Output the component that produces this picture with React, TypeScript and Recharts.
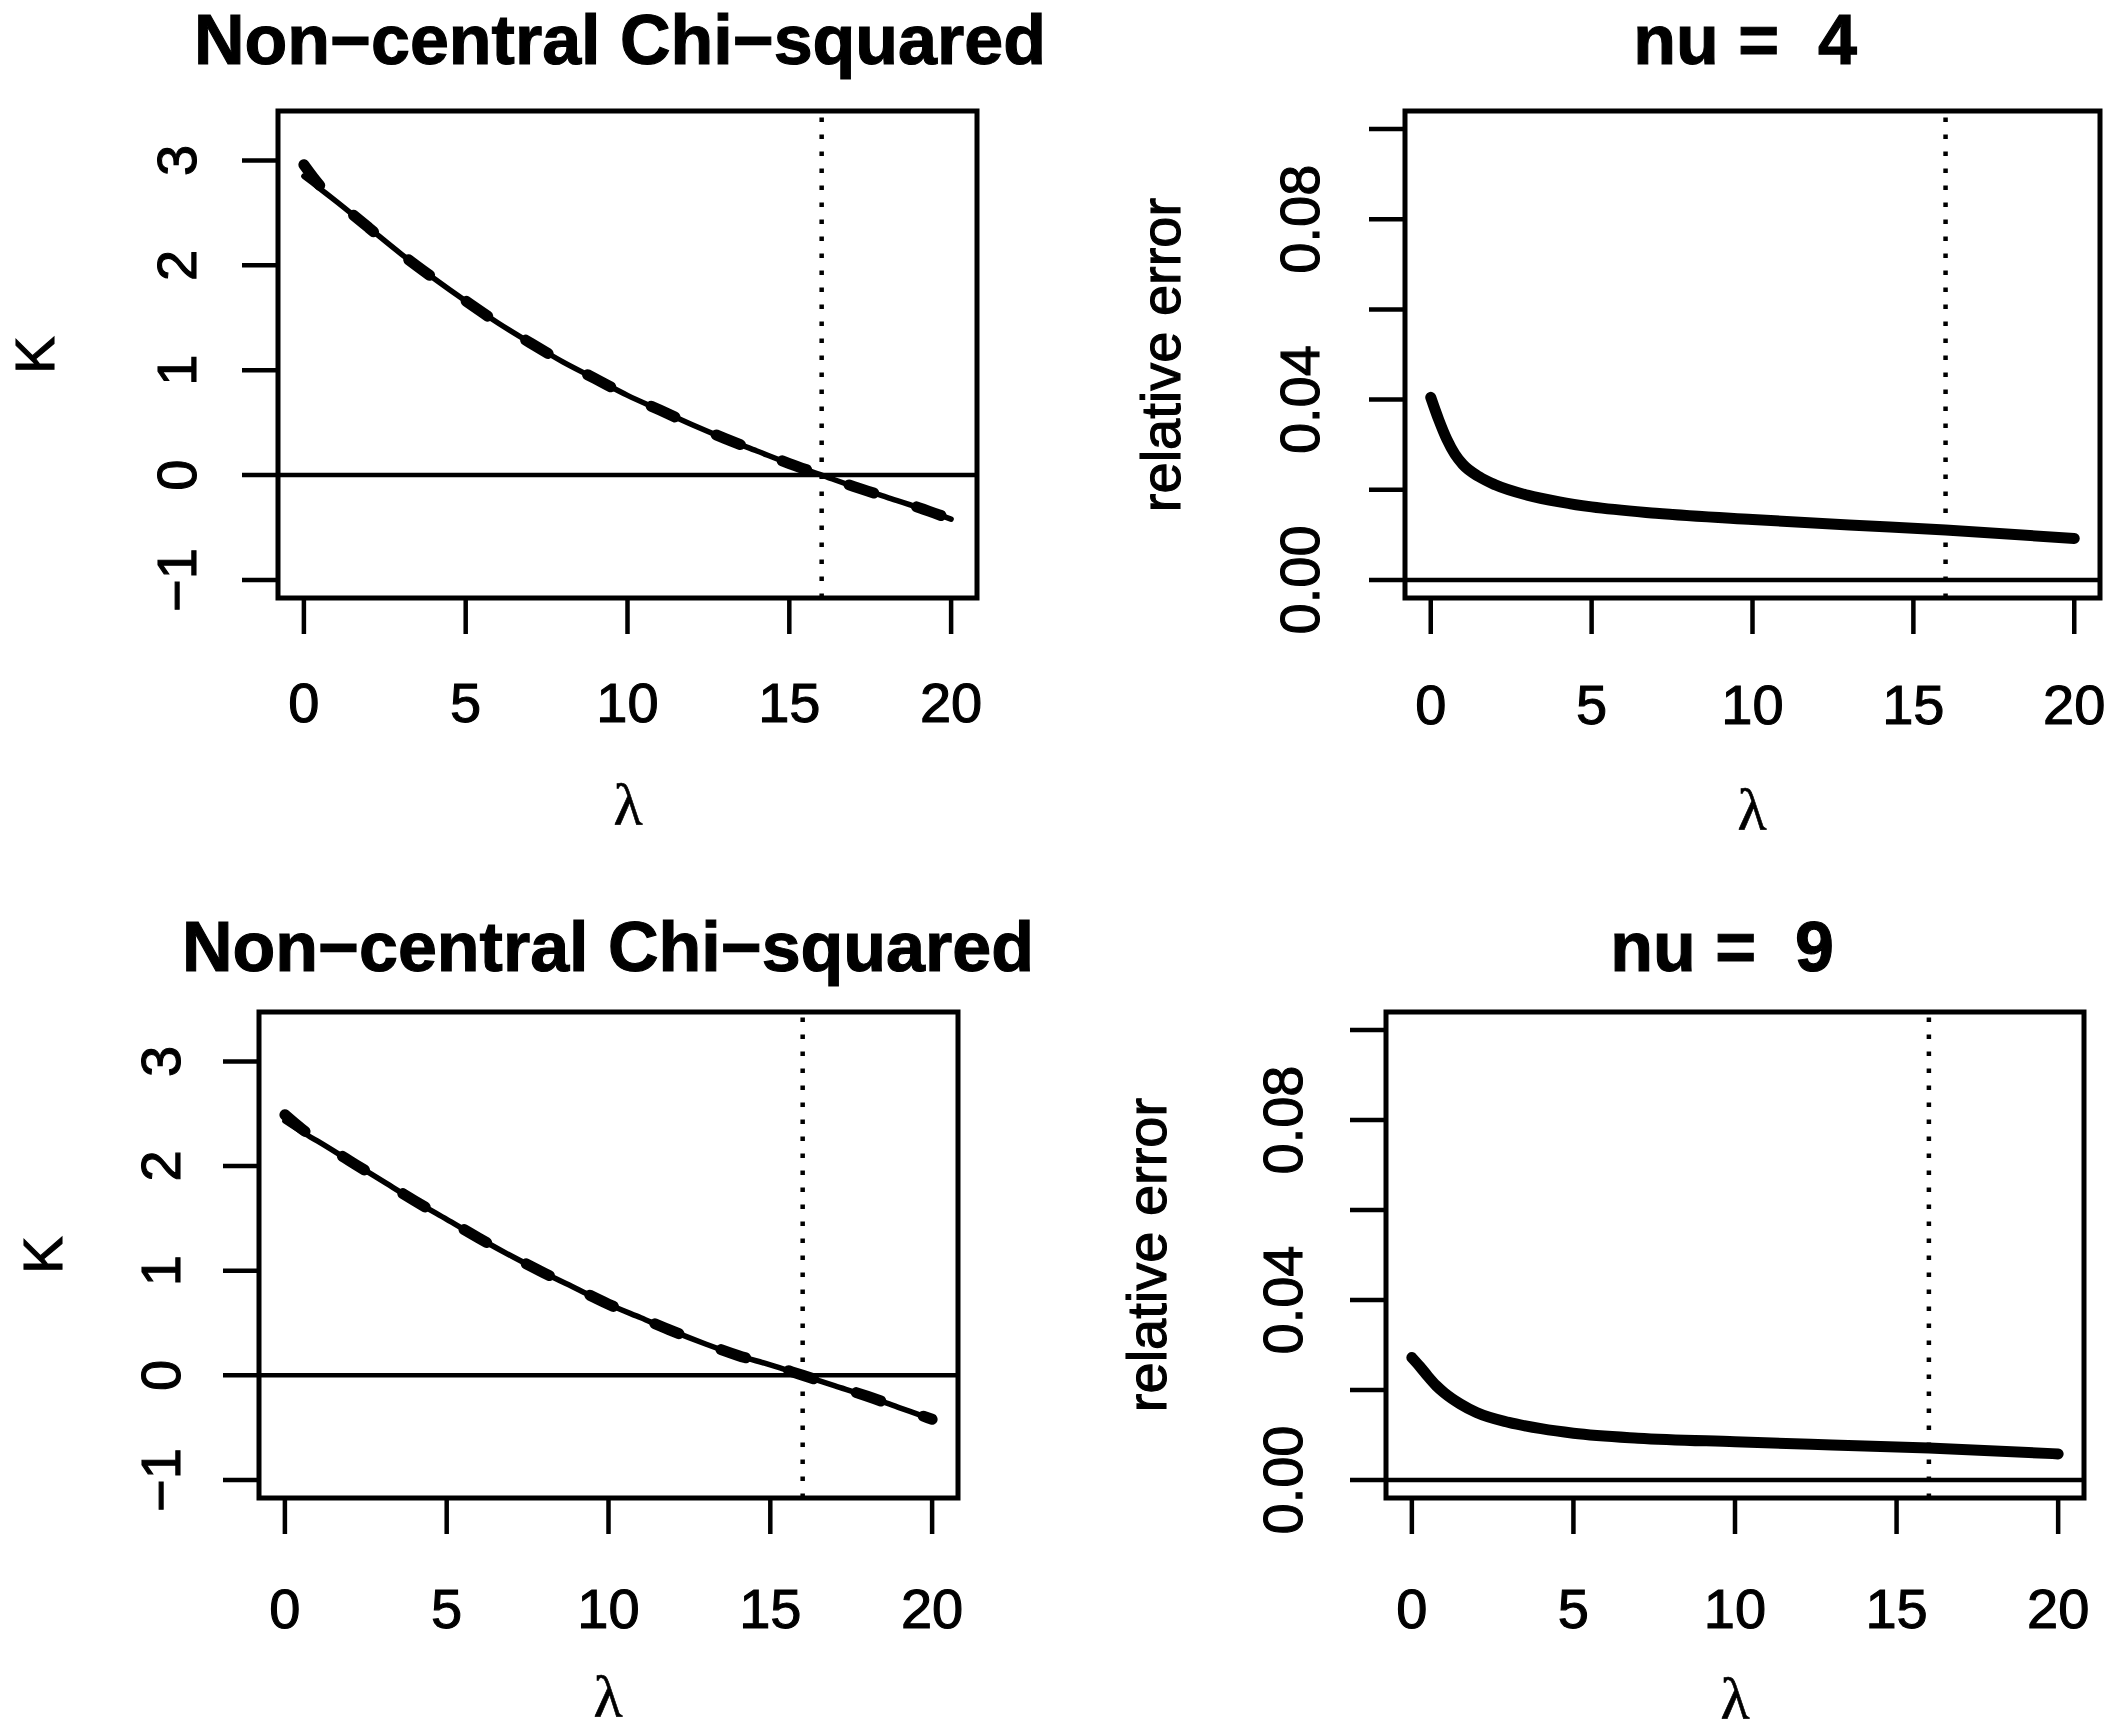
import React from "react";
import {
  Line,
  LineChart,
  ReferenceArea,
  ReferenceLine,
  XAxis,
  YAxis,
} from "recharts";

const W = 2117;
const H = 1732;
const SANS = "'Liberation Sans', Arial, Helvetica, sans-serif";
const SERIF = "'Liberation Serif', 'Times New Roman', serif";

// lambda grid for the K curves
const LAMBDA_K = [0, 0.5, 1, 2, 3, 4, 5, 6, 7, 8, 9, 10, 11, 12, 13, 14, 15, 16, 17, 18, 19, 20];
const K_EXACT_NU4 = [2.85, 2.73, 2.61, 2.36, 2.11, 1.88, 1.66, 1.45, 1.26, 1.08, 0.92, 0.76, 0.62, 0.48, 0.35, 0.23, 0.11, 0.0, -0.11, -0.21, -0.31, -0.42];
const K_APPROX_NU4 = [2.96, 2.76, 2.62, 2.36, 2.11, 1.88, 1.66, 1.45, 1.26, 1.08, 0.92, 0.76, 0.62, 0.48, 0.35, 0.23, 0.11, 0.0, -0.11, -0.21, -0.31, -0.42];
const K_EXACT_NU9 = [2.43, 2.33, 2.24, 2.05, 1.86, 1.67, 1.49, 1.31, 1.14, 0.98, 0.83, 0.68, 0.55, 0.42, 0.3, 0.19, 0.1, 0.0, -0.1, -0.2, -0.31, -0.42];
const K_APPROX_NU9 = [2.49, 2.36, 2.25, 2.05, 1.86, 1.67, 1.49, 1.31, 1.14, 0.98, 0.83, 0.68, 0.55, 0.42, 0.3, 0.19, 0.1, 0.0, -0.1, -0.2, -0.31, -0.42];

// lambda grid for the relative error curves
const LAMBDA_R = [0, 0.25, 0.5, 0.75, 1, 1.5, 2, 3, 4, 5, 7, 10, 13, 16, 20];
const REL_NU4 = [0.0405, 0.0355, 0.0312, 0.0279, 0.0256, 0.0229, 0.0211, 0.0188, 0.0173, 0.0162, 0.0148, 0.0134, 0.0122, 0.0111, 0.0092];
const REL_NU9 = [0.0272, 0.0252, 0.0230, 0.0210, 0.0194, 0.0169, 0.0150, 0.0128, 0.0114, 0.0104, 0.0093, 0.0085, 0.0078, 0.0071, 0.0058];

const X_TICKS = [0, 5, 10, 15, 20];
const X_DOMAIN = [-0.8, 20.8];
const K_TICKS = [-1, 0, 1, 2, 3];
const K_DOMAIN = [-1.172, 3.472];
const REL_TICKS = [0, 0.02, 0.04, 0.06, 0.08, 0.1];
const REL_TICK_LABELS = ["0.00", "", "0.04", "", "0.08", ""];
const REL_DOMAIN = [-0.004, 0.104];
const V_LINE = 16;

const kData = (exact: number[], approx: number[]) =>
  LAMBDA_K.map((l, i) => ({ l, exact: exact[i], approx: approx[i] }));
const relData = (vals: number[]) => LAMBDA_R.map((l, i) => ({ l, rel: vals[i] }));

type Box = { left: number; top: number; right: number; bottom: number };

// thin outline so the text looks as heavy as the R png
const textInk = { fill: "#000", stroke: "#000", strokeWidth: 1.1 };

function Panel({
  box,
  data,
  yDomain,
  yTicks,
  yLabel,
  yLabelX,
  xLabelY,
  kind,
}: {
  box: Box;
  data: object[];
  yDomain: number[];
  yTicks: number[];
  yLabel: (v: number, i: number) => string;
  yLabelX: number;
  xLabelY: number;
  kind: "k" | "rel";
}) {
  const axisW = 100;
  return (
    <div style={{ position: "absolute", left: 0, top: 0 }}>
      <LineChart
        width={W}
        height={H}
        data={data}
        margin={{
          top: box.top,
          left: box.left - axisW,
          right: W - box.right,
          bottom: H - box.bottom - axisW,
        }}
      >
        <XAxis
          type="number"
          dataKey="l"
          domain={X_DOMAIN}
          allowDataOverflow
          ticks={X_TICKS}
          interval={0}
          height={axisW}
          axisLine={false}
          tickSize={36}
          tickLine={{ stroke: "#000", strokeWidth: 4.5 }}
          tick={(p: any) => (
            <text
              x={p.x}
              y={xLabelY}
              textAnchor="middle"
              dominantBaseline="central"
              fontFamily={SANS}
              fontSize={56}
              {...textInk}
            >
              {p.payload.value}
            </text>
          )}
        />
        <YAxis
          type="number"
          domain={yDomain}
          allowDataOverflow
          ticks={yTicks}
          interval={0}
          width={axisW}
          axisLine={false}
          tickSize={36}
          tickLine={{ stroke: "#000", strokeWidth: 4.5 }}
          tick={(p: any) => (
            <text
              transform={`translate(${yLabelX},${p.y}) rotate(-90)`}
              textAnchor="middle"
              dominantBaseline="central"
              fontFamily={SANS}
              fontSize={56}
              {...textInk}
            >
              {yLabel(p.payload.value, p.index)}
            </text>
          )}
        />
        <ReferenceLine y={0} stroke="#000" strokeWidth={4.5} ifOverflow="visible" />
        <ReferenceLine
          x={V_LINE}
          stroke="#000"
          strokeWidth={4.5}
          strokeDasharray="4.5 12.5"
          ifOverflow="visible"
        />
        {kind === "k" ? (
          <Line
            type="monotone"
            dataKey="exact"
            stroke="#000"
            strokeWidth={5.5}
            dot={false}
            isAnimationActive={false}
            strokeLinecap="round"
          />
        ) : null}
        {kind === "k" ? (
          <Line
            type="monotone"
            dataKey="approx"
            stroke="#000"
            strokeWidth={11}
            strokeDasharray="26 45"
            dot={false}
            isAnimationActive={false}
            strokeLinecap="round"
          />
        ) : null}
        {kind === "rel" ? (
          <Line
            type="monotone"
            dataKey="rel"
            stroke="#000"
            strokeWidth={11}
            dot={false}
            isAnimationActive={false}
            strokeLinecap="round"
          />
        ) : null}
        <ReferenceArea
          x1={X_DOMAIN[0]}
          x2={X_DOMAIN[1]}
          y1={yDomain[0]}
          y2={yDomain[1]}
          fill="none"
          stroke="#000"
          strokeWidth={5}
          ifOverflow="visible"
        />
      </LineChart>
    </div>
  );
}

const kTickLabel = (v: number) => String(v).replace("-", "\u2212");
const relTickLabel = (_v: number, i: number) => REL_TICK_LABELS[i] ?? "";

function Label({
  x,
  y,
  text,
  size = 56,
  bold = false,
  rotate = false,
  serif = false,
}: {
  x: number;
  y: number;
  text: string;
  size?: number;
  bold?: boolean;
  rotate?: boolean;
  serif?: boolean;
}) {
  return (
    <text
      transform={`translate(${x},${y})${rotate ? " rotate(-90)" : ""}`}
      textAnchor="middle"
      dominantBaseline="central"
      fontFamily={serif ? SERIF : SANS}
      fontWeight={bold ? "bold" : "normal"}
      fontSize={size}
      {...textInk}
      strokeWidth={serif ? 0.6 : 1.1}
      style={{ whiteSpace: "pre" }}
    >
      {text}
    </text>
  );
}

export default function App() {
  return (
    <div style={{ position: "relative", width: W, height: H, background: "#fff" }}>
      <style>{`body{margin:0;background:#fff}`}</style>
      <Panel
        box={{ left: 278, top: 111, right: 977, bottom: 598 }}
        data={kData(K_EXACT_NU4, K_APPROX_NU4)}
        yDomain={K_DOMAIN}
        yTicks={K_TICKS}
        yLabel={kTickLabel}
        yLabelX={176}
        xLabelY={702}
        kind="k"
      />
      <Panel
        box={{ left: 1405, top: 111, right: 2100, bottom: 598 }}
        data={relData(REL_NU4)}
        yDomain={REL_DOMAIN}
        yTicks={REL_TICKS}
        yLabel={relTickLabel}
        yLabelX={1299}
        xLabelY={704}
        kind="rel"
      />
      <Panel
        box={{ left: 259, top: 1012, right: 958, bottom: 1498 }}
        data={kData(K_EXACT_NU9, K_APPROX_NU9)}
        yDomain={K_DOMAIN}
        yTicks={K_TICKS}
        yLabel={kTickLabel}
        yLabelX={160}
        xLabelY={1608}
        kind="k"
      />
      <Panel
        box={{ left: 1386, top: 1012, right: 2084, bottom: 1498 }}
        data={relData(REL_NU9)}
        yDomain={REL_DOMAIN}
        yTicks={REL_TICKS}
        yLabel={relTickLabel}
        yLabelX={1282}
        xLabelY={1608}
        kind="rel"
      />
      <svg
        width={W}
        height={H}
        style={{ position: "absolute", left: 0, top: 0, pointerEvents: "none" }}
      >
        <Label x={620} y={40} text="Non−central Chi−squared" size={70} bold />
        <Label x={1745} y={40} text="nu =  4" size={70} bold />
        <Label x={608} y={947} text="Non−central Chi−squared" size={70} bold />
        <Label x={1722} y={947} text="nu =  9" size={70} bold />
        <Label x={34} y={355} text="K" rotate />
        <Label x={1160} y={355} text="relative error" rotate />
        <Label x={42} y={1255} text="K" rotate />
        <Label x={1146} y={1255} text="relative error" rotate />
        <Label x={628} y={805} text="λ" serif size={60} />
        <Label x={1752} y={810} text="λ" serif size={60} />
        <Label x={608} y={1697} text="λ" serif size={60} />
        <Label x={1735} y={1699} text="λ" serif size={60} />
      </svg>
    </div>
  );
}
